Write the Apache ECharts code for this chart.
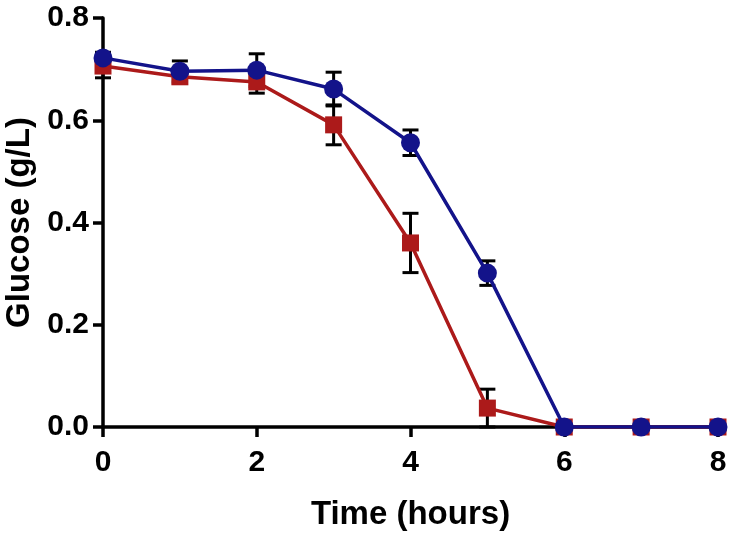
<!DOCTYPE html>
<html>
<head>
<meta charset="utf-8">
<script src="https://cdn.jsdelivr.net/npm/echarts@6/dist/echarts.min.js"></script>
<style>
  html, body { margin: 0; padding: 0; background: #fff; }
  #chart { width: 739px; height: 537px; }
</style>
</head>
<body>
<div id="chart"></div>
<script>
// time points (hours)
var hours = [0, 1, 2, 3, 4, 5, 6, 7, 8]
// blue series (circles) mean and SD
var blueMean = [0.722, 0.696, 0.698, 0.661, 0.556, 0.301, 0, 0, 0]
var blueSd = [0.011, 0.020, 0.032, 0.033, 0.025, 0.024, 0, 0, 0]
// red series (squares) mean and SD
var redMean = [0.706, 0.685, 0.675, 0.591, 0.360, 0.037, 0, 0, 0]
var redSd = [0.023, 0.012, 0.022, 0.039, 0.058, 0.037, 0, 0, 0]
var yTicks = [0, 0.2, 0.4, 0.6, 0.8]

var chart = echarts.init(document.getElementById('chart'))

function pairs(mean) {
  return hours.map(function (h, i) { return [h, mean[i]] })
}
function errData(mean, sd) {
  return hours.map(function (h, i) { return [h, mean[i] - sd[i], mean[i] + sd[i]] })
}

function renderErr(params, api) {
  if (api.value(2) - api.value(1) <= 0) return
  var lo = api.coord([api.value(0), api.value(1)])
  var hi = api.coord([api.value(0), api.value(2)])
  var w = 8
  var st = { stroke: '#000', lineWidth: 3 }
  return {
    type: 'group',
    children: [
      { type: 'line', shape: { x1: lo[0], y1: lo[1], x2: hi[0], y2: hi[1] }, style: st },
      { type: 'line', shape: { x1: lo[0] - w, y1: lo[1], x2: lo[0] + w, y2: lo[1] }, style: st },
      { type: 'line', shape: { x1: hi[0] - w, y1: hi[1], x2: hi[0] + w, y2: hi[1] }, style: st }
    ]
  }
}

var font = '"Liberation Sans", Arial, sans-serif'

chart.setOption({
  animation: false,
  grid: { left: 103, right: 21, top: 18, bottom: 110, outerBoundsMode: 'none' },
  xAxis: {
    type: 'value',
    min: 0,
    max: 8,
    interval: 2,
    name: 'Time (hours)',
    nameLocation: 'middle',
    nameGap: 71,
    nameTextStyle: { color: '#000', fontSize: 33, fontWeight: 'bold', fontFamily: font },
    axisLine: { show: true, lineStyle: { color: '#000', width: 3.5 } },
    axisTick: { show: true, length: 10, lineStyle: { color: '#000', width: 3.5 } },
    axisLabel: { color: '#000', fontSize: 30, fontWeight: 'bold', fontFamily: font, margin: 21 },
    splitLine: { show: false }
  },
  yAxis: {
    type: 'value',
    min: yTicks[0],
    max: yTicks[yTicks.length - 1],
    interval: 0.2,
    name: 'Glucose (g/L)',
    nameLocation: 'middle',
    nameGap: 67,
    nameTextStyle: { color: '#000', fontSize: 33, fontWeight: 'bold', fontFamily: font },
    axisLine: { show: true, lineStyle: { color: '#000', width: 3.5 } },
    axisTick: { show: true, length: 10, lineStyle: { color: '#000', width: 3.5 } },
    axisLabel: {
      color: '#000', fontSize: 30, fontWeight: 'bold', fontFamily: font, margin: 14,
      formatter: function (v) { return v.toFixed(1) }
    },
    splitLine: { show: false }
  },
  series: [
    {
      type: 'custom',
      renderItem: renderErr,
      data: errData(redMean, redSd),
      z: 1
    },
    {
      type: 'custom',
      renderItem: renderErr,
      data: errData(blueMean, blueSd),
      z: 1
    },
    {
      name: 'red',
      type: 'line',
      data: pairs(redMean),
      symbol: 'rect',
      symbolSize: 17,
      showAllSymbol: true,
      lineStyle: { color: '#ac1a1a', width: 3.5 },
      itemStyle: { color: '#ac1a1a' },
      z: 3
    },
    {
      name: 'blue',
      type: 'line',
      data: pairs(blueMean),
      symbol: 'circle',
      symbolSize: 19,
      showAllSymbol: true,
      lineStyle: { color: '#13138a', width: 3.5 },
      itemStyle: { color: '#13138a' },
      z: 4
    }
  ]
})
</script>
</body>
</html>
